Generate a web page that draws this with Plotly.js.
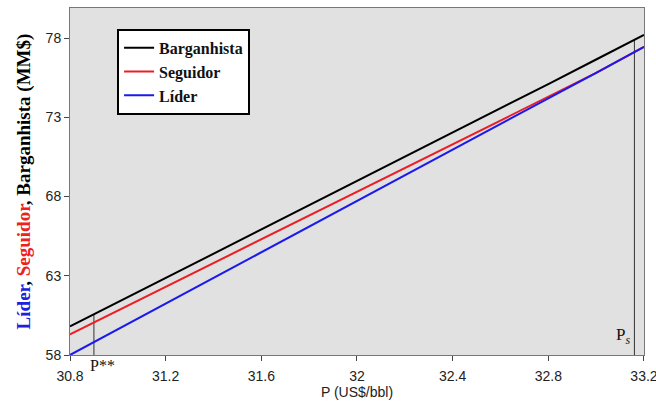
<!DOCTYPE html>
<html>
<head>
<meta charset="utf-8">
<script src="https://cdn.plot.ly/plotly-3.0.1.min.js"></script>
<style>html,body{margin:0;padding:0;background:#fff;}#chart{width:656px;height:403px;}</style>
</head>
<body>
<div id="chart"></div>
<script>
// Price axis points (US$/bbl)
var price = [30.8, 31.2, 31.6, 32.0, 32.4, 32.8, 33.0, 33.2];
// Values (MM$)
var barganhista = [59.8, 62.85, 65.9, 68.95, 72.0, 75.1, 76.65, 78.2];
var seguidor    = [59.3, 62.3, 65.3, 68.3, 71.3, 74.3, 75.8, 77.45];
var lider       = [58.0, 61.25, 64.5, 67.7, 70.95, 74.2, 75.8, 77.45];
// Marked prices
var pStarStar = 30.9, pStarStarVal = 60.55;
var pS = 33.16, pSVal = 77.9;
var yBase = 58;
var xTicks = [30.8, 31.2, 31.6, 32.0, 32.4, 32.8, 33.2];
var xTickText = ['30.8', '31.2', '31.6', '32', '32.4', '32.8', '33.2'];
var yTicks = [58, 63, 68, 73, 78];

var serif = '"Liberation Serif", "Times New Roman", serif';
var sans = '"Liberation Sans", Arial, sans-serif';

var traces = [
  {x: [pStarStar, pStarStar], y: [yBase, pStarStarVal], mode: 'lines', line: {color: '#333', width: 1}, showlegend: false, hoverinfo: 'skip'},
  {x: [pS, pS], y: [yBase, pSVal], mode: 'lines', line: {color: '#333', width: 1}, showlegend: false, hoverinfo: 'skip'},
  {x: price, y: barganhista, name: '<b>Barganhista</b>', mode: 'lines', line: {color: '#000000', width: 2}},
  {x: price, y: seguidor, name: '<b>Seguidor</b>', mode: 'lines', line: {color: '#ee1c24', width: 2}},
  {x: price, y: lider, name: '<b>Líder</b>', mode: 'lines', line: {color: '#1a1aee', width: 2}}
];

var layout = {
  width: 656, height: 403,
  margin: {l: 70, r: 12, t: 8, b: 48},
  paper_bgcolor: '#ffffff',
  plot_bgcolor: '#e1e1e1',
  showlegend: true,
  legend: {
    x: 0.082, y: 0.94, xanchor: 'left', yanchor: 'top',
    bgcolor: '#ffffff', bordercolor: '#000000', borderwidth: 2,
    font: {family: serif, size: 16, color: '#111'},
    itemwidth: 30, tracegroupgap: 0
  },
  xaxis: {
    range: [30.8, 33.2001], tickvals: xTicks, ticktext: xTickText,
    showgrid: false, zeroline: false,
    showline: true, linecolor: '#777', linewidth: 1, mirror: true,
    ticks: 'outside', ticklen: 5, tickcolor: '#444',
    ticklabelstandoff: 3, ticklabeloverflow: 'allow',
    tickfont: {family: sans, size: 14, color: '#222'},
    title: {text: 'P (US$/bbl)', font: {family: sans, size: 14, color: '#222'}, standoff: 2}
  },
  yaxis: {
    range: [58, 79.9], tickvals: yTicks,
    showgrid: false, zeroline: false,
    showline: true, linecolor: '#777', linewidth: 1, mirror: true,
    ticks: 'outside', ticklen: 5, tickcolor: '#444',
    tickfont: {family: sans, size: 14, color: '#222'},
    title: {
      text: '<b><span style="color:#2020e0">Líder</span>, <span style="color:#ee2020">Seguidor</span>, <span style="color:#000">Barganhista (MM$)</span></b>',
      font: {family: serif, size: 19, color: '#000'}, standoff: 9
    }
  },
  annotations: [
    {x: pStarStar, y: 0, xref: 'x', yref: 'paper', text: 'P**', showarrow: false,
     xanchor: 'left', yanchor: 'top', xshift: -6, yshift: 0, font: {family: serif, size: 16, color: '#111'}},
    {x: pS, y: 0, xref: 'x', yref: 'paper', text: 'P<sub><i>s</i></sub>', showarrow: false,
     xanchor: 'right', yanchor: 'bottom', xshift: -2, yshift: 6, font: {family: serif, size: 17, color: '#111'}}
  ]
};

Plotly.newPlot('chart', traces, layout, {displayModeBar: false, staticPlot: true});
</script>
</body>
</html>
